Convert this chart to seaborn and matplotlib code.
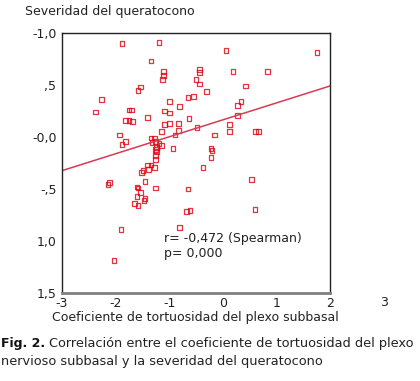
import matplotlib
matplotlib.use('Agg')
import matplotlib.pyplot as plt
import seaborn as sns
import pandas as pd

# coeficiente de tortuosidad (x) y severidad (y)
tortuosidad = [-1.88, -1.19, 0.06, 1.76, -1.34, -1.10, -1.10, -1.12, -0.43, -0.43,
               0.19, 0.84, -0.50, -0.43, -0.31, 0.43, -1.53, -1.58, -2.27, -2.38,
               -1.75, -1.71, -1.82, -1.75, -1.68, -1.41, -1.00, -0.65, -0.54, -0.80,
               -1.08, -1.00, -0.63, -0.82, -1.08, -1.00, -1.15, -0.82, -0.89, -0.48,
               -0.15, 0.13, 0.13, 0.34, 0.28, 0.28, 0.61, 0.66, -1.92, -1.82,
               -1.88, -1.34, -1.28, -1.32, -1.26, -1.19, -1.15, -1.23, -1.26, -0.93,
               -0.22, -0.20, -1.26, -1.23, -0.22, -1.40, -1.34, -1.28, -1.38, -1.49,
               -1.51, -0.37, 0.54, -2.12, -2.14, -1.45, -1.60, -1.58, -1.53, -1.60,
               -1.45, -1.47, -1.64, -1.58, -1.26, -0.65, -0.67, -0.61, -0.80, -1.90,
               -2.03, 0.60, -1.26]
severidad = [0.90, 0.91, 0.83, 0.81, 0.73, 0.63, 0.59, 0.55, 0.65, 0.62,
             0.63, 0.63, 0.55, 0.51, 0.44, 0.49, 0.48, 0.45, 0.36, 0.24,
             0.26, 0.26, 0.16, 0.16, 0.15, 0.19, 0.34, 0.38, 0.39, 0.29,
             0.25, 0.23, 0.18, 0.13, 0.12, 0.13, 0.05, 0.06, 0.02, 0.09,
             0.02, 0.12, 0.05, 0.34, 0.30, 0.21, 0.05, 0.05, 0.02, -0.04,
             -0.07, -0.01, -0.01, -0.05, -0.04, -0.06, -0.08, -0.10, -0.12, -0.11,
             -0.11, -0.13, -0.18, -0.14, -0.20, -0.27, -0.27, -0.29, -0.31, -0.32,
             -0.34, -0.29, -0.41, -0.44, -0.46, -0.43, -0.48, -0.49, -0.53, -0.57,
             -0.59, -0.61, -0.64, -0.66, -0.49, -0.50, -0.72, -0.71, -0.87, -0.89,
             -1.19, -0.70, -0.22]

x_ticks = [-3, -2, -1, 0, 1, 2]
x_labels = ['-3', '-2', '-1', '0', '1', '2']
y_ticks = [1.0, 0.5, 0.0, -0.5, -1.0, -1.5]
y_labels = ['-1,0', ',5', '-0,0', '-,5', '1,0', '1,5']

df = pd.DataFrame({'x': tortuosidad, 'y': severidad})

sns.set_style('white')
plt.rcParams['font.family'] = ['DejaVu Sans']

fig = plt.figure(figsize=(4.2, 3.81), dpi=100)
ax = fig.add_axes([0.1476, 0.231, 0.638, 0.6824])
ax.set_xlim(-3, 2)
ax.set_ylim(-1.5, 1.0)

rojo = '#e00010'
sns.regplot(data=df, x='x', y='y', ax=ax, ci=None, truncate=False, marker='s',
            scatter_kws=dict(s=12, facecolors='none', edgecolors=rojo, linewidths=0.9),
            line_kws=dict(color='#d83a52', lw=1.1))

ax.set_xticks(x_ticks)
ax.set_xticklabels(x_labels)
ax.set_yticks(y_ticks)
ax.set_yticklabels(y_labels)
ax.tick_params(axis='both', labelsize=9, length=3, width=0.8, pad=1,
               color='#333333', labelcolor='#222222')
ax.tick_params(axis='x', pad=0)
ax.set_xlabel('')
ax.set_ylabel('')

for side in ['left', 'top', 'right']:
    ax.spines[side].set_color('#222222')
    ax.spines[side].set_linewidth(1.0)
ax.spines['bottom'].set_color('#808080')
ax.spines['bottom'].set_linewidth(2.0)

# etiqueta "3" fuera del marco, como en el original
ax.text(3, -0.012, '3', transform=ax.get_xaxis_transform(), ha='center', va='top',
        fontsize=9, color='#222222', clip_on=False)

ax.text(-1.1, -0.98, 'r= -0,472 (Spearman)', fontsize=9, color='#222222', va='center')
ax.text(-1.1, -1.12, 'p= 0,000', fontsize=9, color='#222222', va='center')

fig.text(25 / 420, 1 - 12 / 381, 'Severidad del queratocono', fontsize=9,
         color='#222222', va='center')
fig.text(195 / 420, 1 - 318 / 381, 'Coeficiente de tortuosidad del plexo subbasal',
         fontsize=9, color='#222222', va='center', ha='center')

# pie de figura
t1 = fig.text(1 / 420, 1 - 343 / 381, 'Fig. 2.', fontsize=9, fontweight='bold',
              color='#111111', va='center')
fig.canvas.draw()
bb = t1.get_window_extent()
fig.text((bb.x1 + 4) / 420, 1 - 343 / 381,
         'Correlación entre el coeficiente de tortuosidad del plexo',
         fontsize=9.3, color='#222222', va='center')
fig.text(1 / 420, 1 - 361 / 381, 'nervioso subbasal y la severidad del queratocono',
         fontsize=9.3, color='#222222', va='center')

fig.savefig('out.png', dpi=100)
